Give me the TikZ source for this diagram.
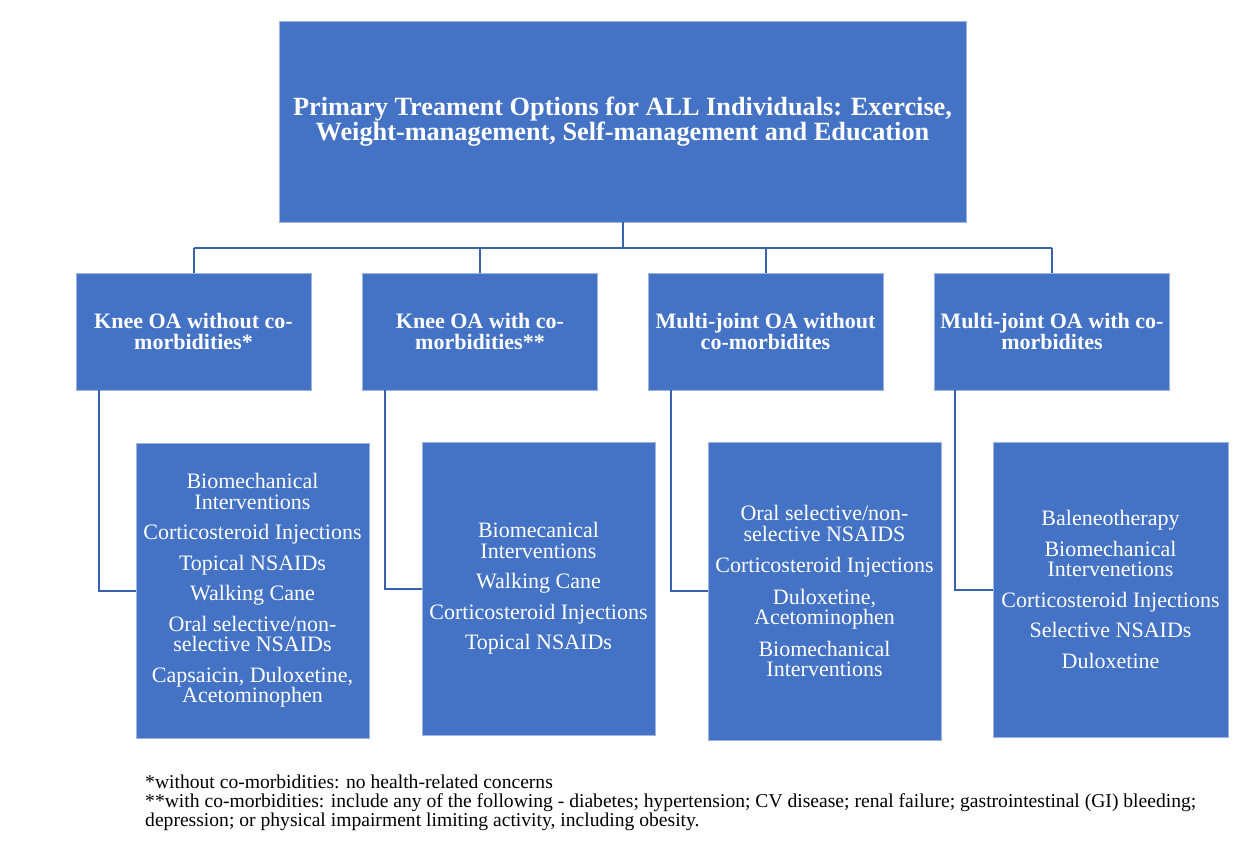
\documentclass[tikz,border=0pt]{standalone}
\usepackage{fontspec}
\setmainfont{Liberation Serif}
\definecolor{boxblue}{HTML}{4472C4}
\definecolor{boxedge}{HTML}{9DB5E0}
\definecolor{linkblue}{HTML}{3A61AE}
\begin{document}
\begin{tikzpicture}[x=1pt,y=-1pt,
  box/.style={rectangle, fill=boxblue, draw=boxedge, line width=0.8pt, inner sep=0pt, text=white, align=center},
  topbox/.style={box, minimum width=687pt, minimum height=201pt, font=\bfseries\fontsize{26.3}{25}\selectfont},
  catbox/.style={box, minimum width=235pt, minimum height=117pt, font=\bfseries\fontsize{22}{20.5}\selectfont},
  listbox/.style={box, minimum width=233pt, font=\fontsize{22}{20.5}\selectfont},
  link/.style={draw=linkblue, line width=2pt},
  note/.style={anchor=base west, inner sep=0pt, align=left, font=\fontsize{19.6}{19}\selectfont}
]
\useasboundingbox (0,0) rectangle (1254,842);
\fill[white] (0,0) rectangle (1254,842);

\node[topbox] (top) at (622.5,121.5) {Primary Treament Options for ALL Individuals: Exercise,\\Weight-management, Self-management and Education};

\node[catbox] (k1) at (193.5,331.5) {Knee OA without co-\\morbidities*};
\node[catbox] (k2) at (480,331.5) {Knee OA with co-\\morbidities**};
\node[catbox] (k3) at (765.5,331.5) {Multi-joint OA without\\co-morbidites};
\node[catbox] (k4) at (1052,331.5) {Multi-joint OA with co-\\morbidites};

\node[listbox, minimum height=295pt] (d1) at (252.5,590.5) {Biomechanical\\Interventions\\[10pt]Corticosteroid Injections\\[10pt]Topical NSAIDs\\[10pt]Walking Cane\\[10pt]Oral selective/non-\\selective NSAIDs\\[10pt]Capsaicin, Duloxetine,\\Acetominophen};
\node[listbox, minimum height=293pt] (d2) at (538.5,588.5) {Biomecanical\\Interventions\\[10pt]Walking Cane\\[10pt]Corticosteroid Injections\\[10pt]Topical NSAIDs};
\node[listbox, minimum height=298pt] (d3) at (824.5,591) {Oral selective/non-\\selective NSAIDS\\[11pt]Corticosteroid Injections\\[11pt]Duloxetine,\\Acetominophen\\[11pt]Biomechanical\\Interventions};
\node[listbox, minimum width=235pt, minimum height=295pt] (d4) at (1110.5,589.5) {Baleneotherapy\\[10pt]Biomechanical\\Intervenetions\\[10pt]Corticosteroid Injections\\[10pt]Selective NSAIDs\\[10pt]Duloxetine};

% connectors from the top box
\coordinate (hub) at ([yshift=-26pt]top.south);
\draw[link] (top.south) -- (hub);
\draw[link] (k1.north |- hub) -- (k4.north |- hub);
\draw[link] (k1.north |- hub) -- (k1.north);
\draw[link] (k2.north |- hub) -- (k2.north);
\draw[link] (k3.north |- hub) -- (k3.north);
\draw[link] (k4.north |- hub) -- (k4.north);

% connectors to the option lists
\draw[link] ([xshift=23pt]k1.south west) |- (d1.west);
\draw[link] ([xshift=23pt]k2.south west) |- (d2.west);
\draw[link] ([xshift=23pt]k3.south west) |- (d3.west);
\draw[link] ([xshift=21pt]k4.south west) |- (d4.west);

\node[note] (n1) at (145,788) {*without co-morbidities: no health-related concerns};
\node[note] (n2) at (145,807) {**with co-morbidities: include any of the following - diabetes; hypertension; CV disease; renal failure; gastrointestinal (GI) bleeding;};
\node[note] (n3) at (145,826) {depression; or physical impairment limiting activity, including obesity.};
\end{tikzpicture}
\end{document}
